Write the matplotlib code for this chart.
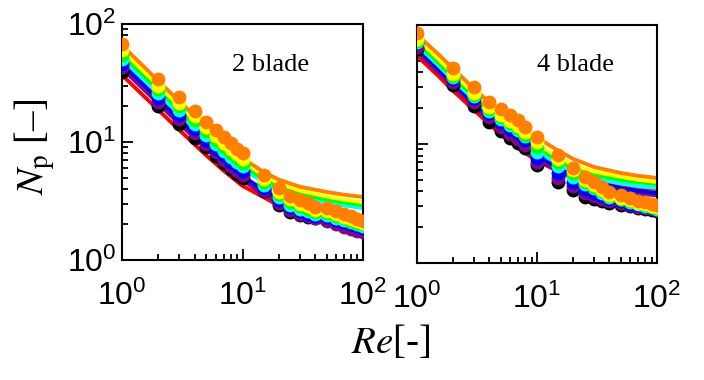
import numpy as np
import matplotlib
matplotlib.use("Agg")
import matplotlib.pyplot as plt
from matplotlib.ticker import LogLocator, NullFormatter

plt.rcParams["font.family"] = ["Liberation Sans", "DejaVu Sans"]
plt.rcParams["mathtext.fontset"] = "custom"
plt.rcParams["mathtext.rm"] = "Liberation Sans"

colors = ["black", "#7a0a8c", "#0000ff", "#00ffff", "#00ff00", "#ffff00", "#ff8000"]
line_colors = ["#ff0000", "#7a0a8c", "#0000ff", "#00ffff", "#00ff00", "#ffff00", "#ff8000"]

# fitted curves, sampled Re
re_line = [1, 1.5, 2, 3, 5, 7, 10, 15, 20, 30, 50, 70, 100]

# 2 blade: curves (red, purple, blue, cyan, green, yellow, orange)
line2_red = [37, 24.8, 18.7, 12.6, 7.7, 5.7, 4.25, 3.4, 2.9, 2.4, 2.0, 1.85, 1.73]
line2_purple = [42, 28.2, 21.2, 14.2, 8.8, 6.4, 4.75, 3.6, 3.05, 2.55, 2.15, 1.98, 1.87]
line2_blue = [46, 30.8, 23.2, 15.5, 9.6, 7.0, 5.15, 3.9, 3.3, 2.8, 2.45, 2.25, 2.1]
line2_cyan = [51, 34.2, 25.8, 17.3, 10.8, 8.0, 5.95, 4.55, 3.92, 3.42, 3.06, 2.9, 2.76]
line2_green = [55, 36.8, 27.8, 18.6, 11.6, 8.6, 6.35, 4.85, 4.17, 3.62, 3.25, 3.07, 2.92]
line2_yellow = [60, 40, 30.2, 20.2, 12.6, 9.3, 6.85, 5.2, 4.47, 3.87, 3.45, 3.25, 3.09]
line2_orange = [66, 44, 33, 22, 13.6, 10.0, 7.3, 5.55, 4.8, 4.17, 3.77, 3.57, 3.42]

# 2 blade: measured points
re_pts2 = [1, 2, 3, 4, 5, 6, 7, 8, 9, 10, 15, 20, 25, 30, 35, 40, 50, 60, 70, 80, 90, 100]
pts2_black = [39, 20.2, 14.3, 10.8, 9.0, 7.6, 6.6, 5.9, 5.4, 5.0, 3.85, 2.92, 2.55, 2.4, 2.3, 2.25, 2.2, 2.1, 2.0, 1.95, 1.9, 1.85]
pts2_purple = [43, 22, 15.7, 12.0, 9.7, 8.2, 7.1, 6.3, 5.7, 5.3, 3.95, 3.05, 2.65, 2.45, 2.35, 2.25, 2.15, 2.0, 1.9, 1.82, 1.76, 1.72]
pts2_blue = [46, 23.5, 16.8, 12.9, 10.4, 8.8, 7.7, 6.8, 6.2, 5.7, 4.1, 3.2, 2.8, 2.58, 2.45, 2.35, 2.3, 2.18, 2.08, 2.0, 1.93, 1.88]
pts2_cyan = [51, 26, 18.5, 14.2, 11.4, 9.7, 8.4, 7.5, 6.8, 6.2, 4.35, 3.4, 2.95, 2.7, 2.58, 2.45, 2.4, 2.27, 2.17, 2.08, 2.0, 1.95]
pts2_green = [55, 28, 20, 15.3, 12.3, 10.4, 9.1, 8.1, 7.3, 6.7, 4.6, 3.6, 3.1, 2.85, 2.7, 2.55, 2.5, 2.35, 2.25, 2.15, 2.07, 2.0]
pts2_yellow = [60, 30, 21.5, 16.5, 13.3, 11.3, 9.9, 8.8, 7.9, 7.2, 4.9, 3.8, 3.3, 3.0, 2.85, 2.65, 2.6, 2.45, 2.32, 2.22, 2.12, 2.05]
pts2_orange = [68, 34, 24, 18.3, 14.8, 12.6, 11.0, 9.8, 8.8, 8.0, 5.3, 4.1, 3.5, 3.2, 3.05, 2.8, 2.75, 2.6, 2.45, 2.35, 2.22, 2.12]

# 4 blade: curves
line4_red = [55, 37.5, 28, 19.2, 12, 9.2, 7.2, 5.9, 5.3, 4.8, 4.45, 4.28, 4.18]
line4_purple = [60, 40.5, 30.5, 20.8, 12.9, 9.7, 7.5, 5.9, 5.1, 4.5, 4.05, 3.83, 3.7]
line4_blue = [64, 43, 32.5, 22.2, 13.8, 10.4, 8.1, 6.3, 5.45, 4.75, 4.25, 4.03, 3.87]
line4_cyan = [68, 46, 34.5, 23.6, 14.7, 11.1, 8.7, 6.8, 5.9, 5.15, 4.65, 4.42, 4.27]
line4_green = [72, 48.5, 36.5, 25, 15.6, 11.9, 9.3, 7.3, 6.3, 5.5, 5.0, 4.77, 4.6]
line4_yellow = [77, 52, 39, 26.6, 16.8, 12.8, 10.0, 7.8, 6.7, 5.85, 5.3, 5.0, 4.79]
line4_orange = [83, 57, 43, 29, 18.3, 14.2, 11.3, 8.8, 7.5, 6.4, 5.7, 5.4, 5.18]

# 4 blade: measured points
re_pts4 = [1, 2, 3, 4, 5, 6, 7, 8, 10, 15, 20, 25, 30, 35, 40, 50, 60, 70, 80, 90, 100]
pts4_black = [62.5, 31.4, 21, 15.3, 12.8, 11.3, 10.2, 9.2, 6.6, 4.8, 4.1, 3.6, 3.45, 3.3, 3.2, 3.1, 3.0, 2.92, 2.85, 2.8, 2.75]
pts4_purple = [65.7, 33, 22.6, 16.8, 13.9, 12.2, 11.0, 9.9, 7.0, 5.2, 4.4, 3.9, 3.65, 3.45, 3.3, 3.17, 3.05, 2.96, 2.88, 2.82, 2.77]
pts4_blue = [70, 35, 24.2, 18.2, 15.4, 13.4, 12.3, 10.9, 7.6, 5.7, 4.8, 4.2, 3.9, 3.65, 3.45, 3.3, 3.15, 3.05, 2.96, 2.88, 2.82]
pts4_cyan = [72, 36.5, 25.2, 19.0, 16.2, 14.5, 13.2, 11.6, 8.6, 6.5, 5.3, 4.65, 4.25, 3.9, 3.6, 3.42, 3.25, 3.12, 3.02, 2.94, 2.87]
pts4_green = [74, 37.5, 26, 19.5, 16.7, 14.9, 13.6, 12.0, 9.4, 7.0, 5.7, 4.8, 4.35, 4.0, 3.67, 3.48, 3.3, 3.17, 3.07, 2.98, 2.9]
pts4_yellow = [77, 39, 27, 20.3, 17.5, 15.6, 14.2, 12.5, 10.3, 7.5, 6.0, 4.95, 4.5, 4.1, 3.75, 3.55, 3.36, 3.22, 3.12, 3.03, 2.95]
pts4_orange = [86, 43.6, 30, 22.6, 19.5, 17.5, 15.9, 13.9, 11.4, 8.1, 6.3, 5.3, 4.8, 4.35, 3.95, 3.7, 3.5, 3.35, 3.25, 3.15, 3.07]

lines2 = [line2_red, line2_purple, line2_blue, line2_cyan, line2_green, line2_yellow, line2_orange]
pts2 = [pts2_black, pts2_purple, pts2_blue, pts2_cyan, pts2_green, pts2_yellow, pts2_orange]
lines4 = [line4_red, line4_purple, line4_blue, line4_cyan, line4_green, line4_yellow, line4_orange]
pts4 = [pts4_black, pts4_purple, pts4_blue, pts4_cyan, pts4_green, pts4_yellow, pts4_orange]


def draw_panel(ax, lines, re_pts, pts, label, label_xy, show_ylabels):
    for y, c in zip(lines, line_colors):
        ax.plot(re_line, y, color=c, lw=2.8, solid_capstyle="butt", zorder=2)
    for y, c in zip(pts, colors):
        ax.plot(re_pts, y, "o", color=c, ms=10, mec="none", zorder=3)
    ax.set_xscale("log")
    ax.set_yscale("log")
    ax.set_xlim(1, 100)
    ax.set_ylim(1, 100)
    for s in ax.spines.values():
        s.set_linewidth(1.5)
    ax.tick_params(which="both", direction="in", top=False, right=False, width=1.3)
    ax.tick_params(which="major", length=8, labelsize=23, pad=4)
    ax.tick_params(which="minor", length=4)
    ax.tick_params(axis="x", which="major", pad=15)
    ax.xaxis.set_major_locator(LogLocator(base=10, numticks=5))
    ax.xaxis.set_minor_locator(LogLocator(base=10, subs=np.arange(2, 10), numticks=10))
    ax.yaxis.set_minor_locator(LogLocator(base=10, subs=np.arange(2, 10), numticks=10))
    ax.xaxis.set_minor_formatter(NullFormatter())
    ax.yaxis.set_minor_formatter(NullFormatter())
    if not show_ylabels:
        ax.tick_params(axis="y", labelleft=False)
    ax.text(label_xy[0], label_xy[1], label, transform=ax.transAxes,
            fontsize=19, family="Liberation Serif", va="center", ha="left")


fig = plt.figure(figsize=(7.04, 3.8), dpi=100)
ax1 = fig.add_axes([122 / 704, 1 - 260 / 380, 241 / 704, 236 / 380])
ax2 = fig.add_axes([417 / 704, 1 - 263 / 380, 240 / 704, 238 / 380])

draw_panel(ax1, lines2, re_pts2, pts2, "2 blade", (0.456, 0.826), True)
draw_panel(ax2, lines4, re_pts4, pts4, "4 blade", (0.50, 0.83), False)

fig.text(391 / 704, 1 - 343 / 380, r"$\mathit{Re}$[-]", fontsize=28,
         family="Liberation Serif", ha="center", va="center",
         math_fontfamily="stix")
fig.text(35 / 704, 1 - 147 / 380, r"$N_\mathrm{p}$ [–]", fontsize=28,
         family="Liberation Serif", ha="center", va="center", rotation=90,
         math_fontfamily="stix")

fig.savefig("out.png", dpi=100)
